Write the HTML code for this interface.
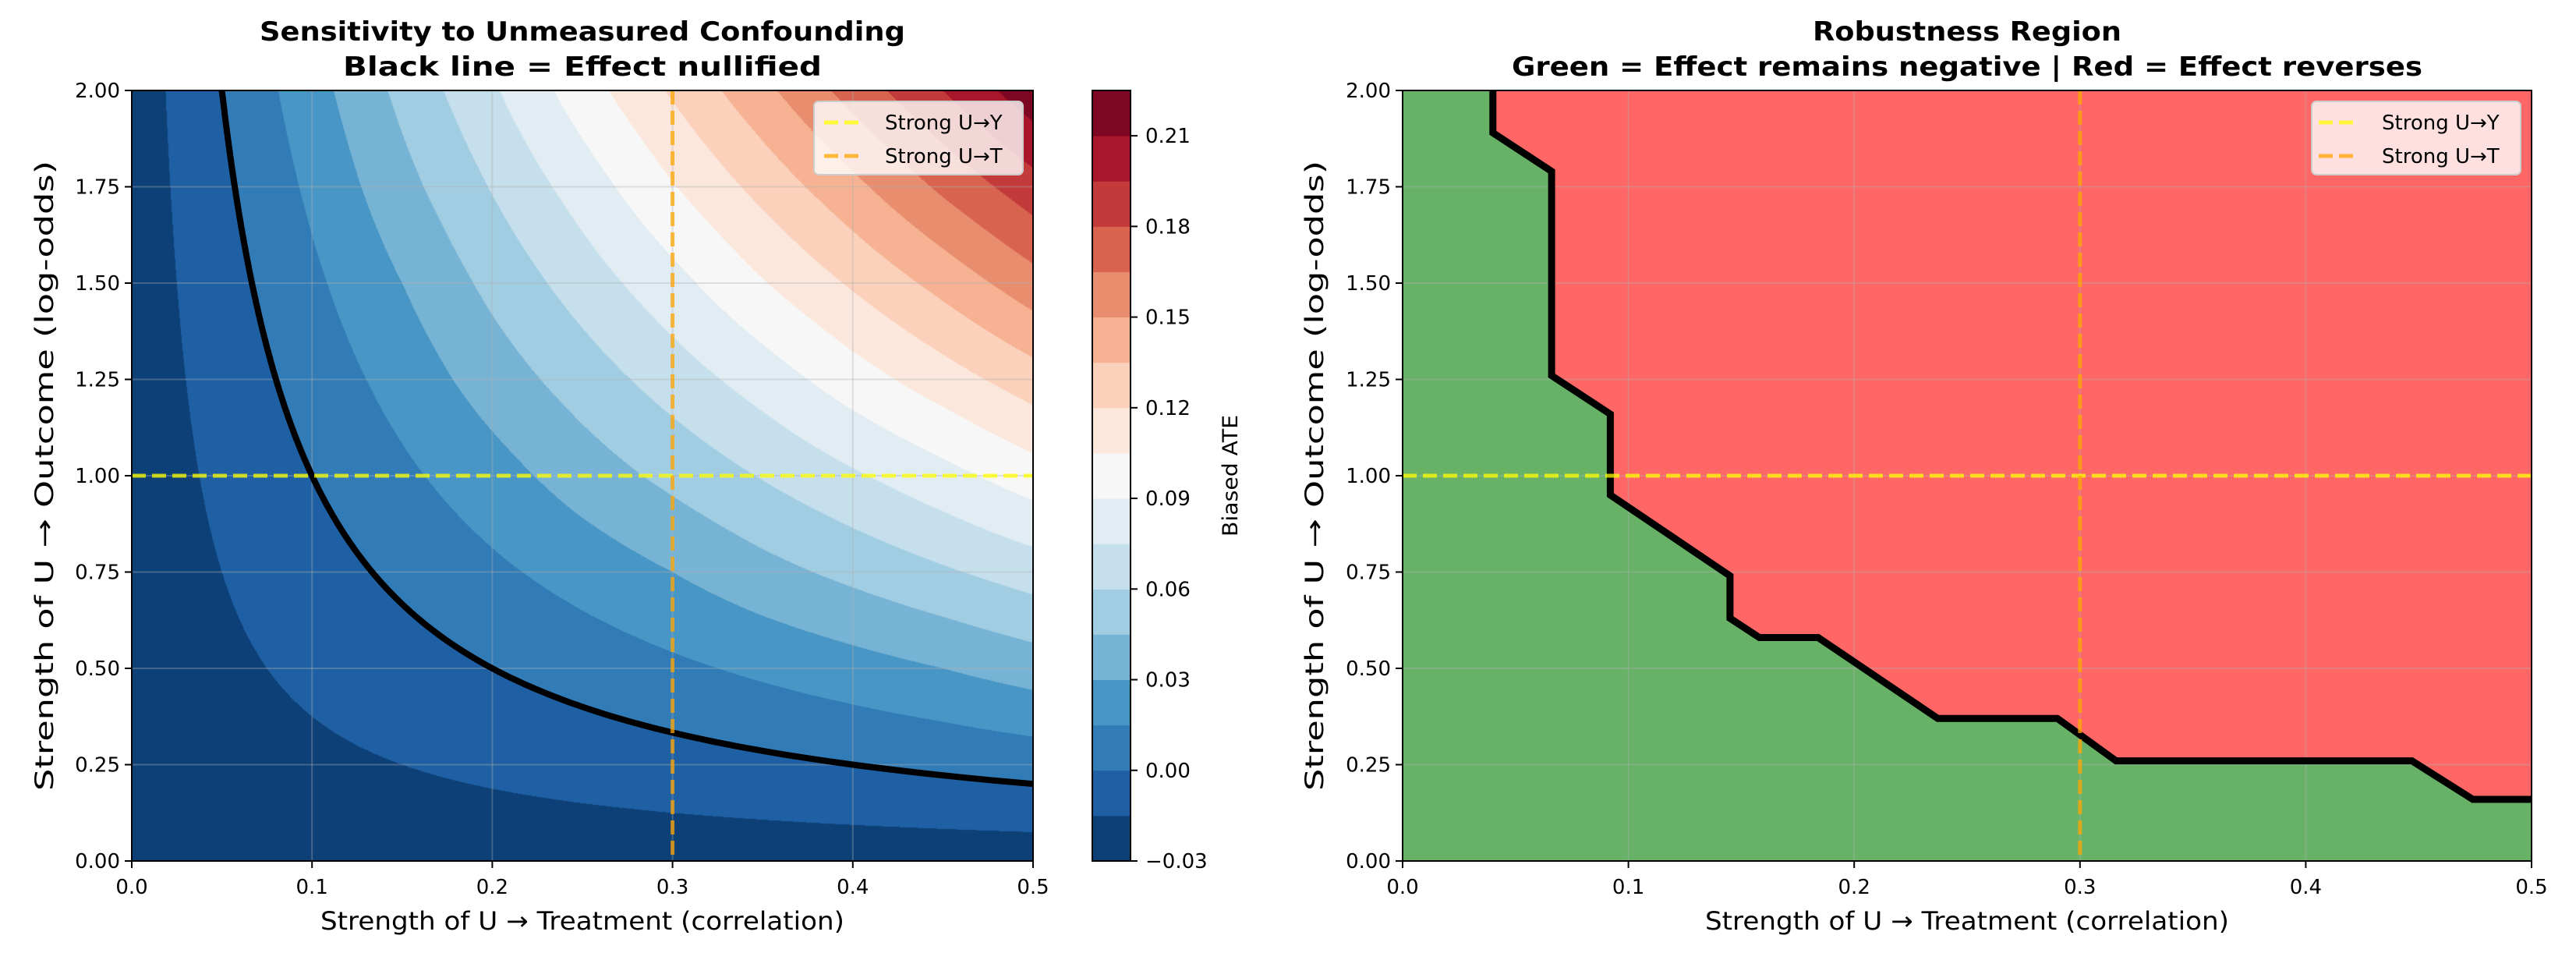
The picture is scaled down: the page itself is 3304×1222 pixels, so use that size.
<!DOCTYPE html>
<html><head><meta charset="utf-8">
<style>
html,body{margin:0;padding:0;background:#fff;}
#wrap{position:relative;width:3304px;height:1222px;overflow:hidden;}
canvas{position:absolute;left:169px;top:116px;}
svg{position:absolute;left:0;top:0;}
text{font-family:"DejaVu Sans","Liberation Sans",sans-serif;fill:#000;}
</style></head>
<body>
<div id="wrap">
<canvas id="cv" width="1156" height="988"></canvas>
<svg id="sv" width="3304" height="1222" xmlns="http://www.w3.org/2000/svg"></svg>
</div>
<script>
// ---- data: left contour (Biased ATE grid) ----
const gridX = [0,0.05,0.1,0.15,0.2,0.25,0.3,0.35,0.4,0.45,0.5];
const gridY = [0,0.25,0.5,0.75,1,1.25,1.5,1.75,2];
const ateRow0 = [-0.024,-0.024,-0.024,-0.024,-0.024,-0.024,-0.024,-0.024,-0.024,-0.024,-0.024];
const ateRow1 = [-0.024,-0.021,-0.018,-0.015,-0.012,-0.009,-0.006,-0.003,0.000,0.003,0.006];
const ateRow2 = [-0.024,-0.018,-0.012,-0.006,0.000,0.006,0.012,0.018,0.024,0.030,0.037];
const ateRow3 = [-0.024,-0.015,-0.006,0.003,0.012,0.021,0.030,0.040,0.049,0.058,0.067];
const ateRow4 = [-0.024,-0.012,0.000,0.012,0.024,0.037,0.049,0.061,0.073,0.085,0.098];
const ateRow5 = [-0.024,-0.009,0.006,0.021,0.037,0.052,0.067,0.082,0.098,0.113,0.128];
const ateRow6 = [-0.024,-0.006,0.012,0.030,0.049,0.067,0.085,0.104,0.122,0.140,0.159];
const ateRow7 = [-0.024,-0.003,0.018,0.040,0.061,0.082,0.104,0.125,0.146,0.168,0.189];
const ateRow8 = [-0.024,0.000,0.024,0.049,0.073,0.098,0.122,0.146,0.171,0.195,0.220];
const ateGrid = [ateRow0,ateRow1,ateRow2,ateRow3,ateRow4,ateRow5,ateRow6,ateRow7,ateRow8];
const levelMin = -0.03, levelStep = 0.015, levelCount = 17;
const cbTicks = [-0.03,0.00,0.03,0.06,0.09,0.12,0.15,0.18,0.21];
const xTicks = [0,0.1,0.2,0.3,0.4,0.5];
const xTickLabels = ["0.0","0.1","0.2","0.3","0.4","0.5"];
const yTicks = [0,0.25,0.5,0.75,1,1.25,1.5,1.75,2];
const yTickLabels = ["0.00","0.25","0.50","0.75","1.00","1.25","1.50","1.75","2.00"];
const strongUY = 1.0, strongUT = 0.3;
// ---- data: right robustness boundary ----
const boundX = [0.04,0.04,0.066,0.066,0.092,0.092,0.145,0.145,0.158,0.184,0.237,0.29,0.316,0.447,0.474,0.5];
const boundY = [2.0,1.89,1.79,1.26,1.16,0.95,0.74,0.63,0.58,0.58,0.37,0.37,0.26,0.26,0.16,0.16];

const NS="http://www.w3.org/2000/svg";
const sv=document.getElementById('sv');
function el(tag,attrs,parent,txt){const e=document.createElementNS(NS,tag);for(const k in attrs)e.setAttribute(k,attrs[k]);if(txt!==undefined)e.textContent=txt;(parent||sv).appendChild(e);return e;}

const L={x0:169,x1:1325,y0:116,y1:1104};
const R={x0:1799,x1:3247,y0:116,y1:1104};
function sx(P,v){return P.x0+(v-0)/(0.5)*(P.x1-P.x0);}
function sy(P,v){return P.y1-(v/2)*(P.y1-P.y0);}

// RdBu_r colormap
const anchors=[[5,48,97],[33,102,172],[67,147,195],[146,197,222],[209,229,240],[247,247,247],[253,219,199],[244,165,130],[214,96,77],[178,24,43],[103,0,31]];
function cmap(t){t=Math.max(0,Math.min(1,t));const p=t*10;const i=Math.min(9,Math.floor(p));const f=p-i;const a=anchors[i],b=anchors[i+1];return [0,1,2].map(k=>Math.round(a[k]+(b[k]-a[k])*f));}
const bandColors=[];for(let k=0;k<levelCount;k++)bandColors.push(cmap((k+0.5)/levelCount));

function ate(x,y){
  const fx=x/(gridX[gridX.length-1]-gridX[0])*(gridX.length-1);
  const fy=y/(gridY[gridY.length-1]-gridY[0])*(gridY.length-1);
  const i=Math.min(gridX.length-2,Math.max(0,Math.floor(fx))),j=Math.min(gridY.length-2,Math.max(0,Math.floor(fy)));
  const u=fx-i,w=fy-j;
  const a=ateGrid[j][i],b=ateGrid[j][i+1],c=ateGrid[j+1][i],d=ateGrid[j+1][i+1];
  return a*(1-u)*(1-w)+b*u*(1-w)+c*(1-u)*w+d*u*w;
}
// contour fill
(function(){
  const cv=document.getElementById('cv');const ctx=cv.getContext('2d');
  const W=cv.width,H=cv.height;const img=ctx.createImageData(W,H);
  for(let py=0;py<H;py++){const y=(1-(py+0.5)/H)*2;
    for(let px=0;px<W;px++){const x=(px+0.5)/W*0.5;
      let k=Math.floor((ate(x,y)-levelMin)/levelStep);k=Math.max(0,Math.min(levelCount-1,k));
      const c=bandColors[k];const o=(py*W+px)*4;img.data[o]=c[0];img.data[o+1]=c[1];img.data[o+2]=c[2];img.data[o+3]=255;}}
  ctx.putImageData(img,0,0);
})();

// right fill
el('rect',{x:R.x0,y:R.y0,width:R.x1-R.x0,height:R.y1-R.y0,fill:'#ff6666',});
let gp='M'+sx(R,0)+','+sy(R,0)+' L'+sx(R,0)+','+sy(R,2);
for(let i=0;i<boundX.length;i++)gp+=' L'+sx(R,boundX[i])+','+sy(R,boundY[i]);
gp+=' L'+sx(R,0.5)+','+sy(R,0)+' Z';
el('path',{d:gp,fill:'#67b267',});

function axesCommon(P,prefix){
  const g=el('g',{});
  xTicks.forEach(v=>el('line',{x1:sx(P,v),x2:sx(P,v),y1:P.y0,y2:P.y1,stroke:'#b0b0b0','stroke-opacity':0.35,'stroke-width':2},g));
  yTicks.forEach(v=>el('line',{x1:P.x0,x2:P.x1,y1:sy(P,v),y2:sy(P,v),stroke:'#b0b0b0','stroke-opacity':0.35,'stroke-width':2},g));
}
function refLines(P,prefix){
  const h=el('line',{x1:P.x0,x2:P.x1,y1:sy(P,strongUY),y2:sy(P,strongUY),stroke:'#ffff00','stroke-opacity':0.75,'stroke-width':5,'stroke-dasharray':'18,8'});
  
  const v=el('line',{x1:sx(P,strongUT),x2:sx(P,strongUT),y1:P.y0,y2:P.y1,stroke:'#ffa500','stroke-opacity':0.75,'stroke-width':5,'stroke-dasharray':'18,8'});
  
}
function axesFrame(P,prefix,title1,title2,t1len,t2len,ylx){
  el('rect',{x:P.x0,y:P.y0,width:P.x1-P.x0,height:P.y1-P.y0,fill:'none',stroke:'#000','stroke-width':2,});
  const xt=el('g',{});
  xTicks.forEach((v,i)=>{el('line',{x1:sx(P,v),x2:sx(P,v),y1:P.y1,y2:P.y1+9,stroke:'#000','stroke-width':2},xt);
    el('text',{x:sx(P,v),y:P.y1+42,'font-size':26,'text-anchor':'middle'},xt,xTickLabels[i]);});
  const yt=el('g',{});
  yTicks.forEach((v,i)=>{el('line',{x1:P.x0-9,x2:P.x0,y1:sy(P,v),y2:sy(P,v),stroke:'#000','stroke-width':2},yt);
    el('text',{x:P.x0-15,y:sy(P,v)+9,'font-size':26,'text-anchor':'end'},yt,yTickLabels[i]);});
  const cx=(P.x0+P.x1)/2;
  el('text',{x:cx,y:1192,'font-size':32,'text-anchor':'middle',textLength:672,lengthAdjust:'spacingAndGlyphs',},sv,'Strength of U \u2192 Treatment (correlation)');
  el('text',{x:0,y:0,'font-size':32,'text-anchor':'middle',textLength:808,lengthAdjust:'spacingAndGlyphs',transform:'translate('+ylx+','+((P.y0+P.y1)/2)+') rotate(-90)',},sv,'Strength of U \u2192 Outcome (log-odds)');
  el('text',{x:cx,y:52,'font-size':34,'font-weight':'bold','text-anchor':'middle',textLength:t1len,lengthAdjust:'spacingAndGlyphs',},sv,title1);
  el('text',{x:cx,y:97,'font-size':34,'font-weight':'bold','text-anchor':'middle',textLength:t2len,lengthAdjust:'spacingAndGlyphs',},sv,title2);
}
function legend(x,y,w,lx,tx,prefix){
  const g=el('g',{});
  el('rect',{x:x,y:y,width:w,height:94,rx:6,fill:'#ffffff','fill-opacity':0.8,stroke:'#cccccc','stroke-width':2},g);
  const e1=el('g',{},g);
  el('line',{x1:lx,x2:lx+50,y1:y+27,y2:y+27,stroke:'#ffff00','stroke-opacity':0.75,'stroke-width':5,'stroke-dasharray':'18,8'},e1);
  el('text',{x:tx,y:y+36,'font-size':26},e1,'Strong U\u2192Y');
  const e2=el('g',{},g);
  el('line',{x1:lx,x2:lx+50,y1:y+70,y2:y+70,stroke:'#ffa500','stroke-opacity':0.75,'stroke-width':5,'stroke-dasharray':'18,8'},e2);
  el('text',{x:tx,y:y+79,'font-size':26},e2,'Strong U\u2192T');
}

// ---- left ----
axesCommon(L,'left');
// nullified contour (ATE = 0)
(function(){
  let pts=[];
  for(let k=0;k<=400;k++){const y=2-k*(2/400);
    if(ate(0.5,y)<0)break;
    let prev=null;
    for(let i=0;i<=500;i++){const x=i*0.001;const v=ate(x,y);
      if(prev!==null && prev<0 && v>=0){const xc=x-0.001*v/(v-prev);pts.push([xc,y]);break;}prev=v;}}
  // end point on right edge
  let lo=0,hi=2;for(let n=0;n<40;n++){const m=(lo+hi)/2;if(ate(0.5,m)<0)lo=m;else hi=m;}
  pts.push([0.5,hi]);
  const d=pts.map((p,i)=>(i?'L':'M')+sx(L,p[0]).toFixed(1)+','+sy(L,p[1]).toFixed(1)).join(' ');
  const p=el('path',{d:d,fill:'none',stroke:'#000','stroke-width':8,'stroke-linejoin':'round'});
  
})();
refLines(L,'left');
axesFrame(L,'left','Sensitivity to Unmeasured Confounding','Black line = Effect nullified',828,614,68);
legend(1044,130,268,1057,1135,'left');

// colorbar
(function(){
  const cb={x0:1401,x1:1450,y0:116,y1:1104};
  const g=el('g',{});
  const top=levelMin+levelStep*levelCount;
  const cy=v=>cb.y1-(v-levelMin)/(top-levelMin)*(cb.y1-cb.y0);
  for(let k=0;k<levelCount;k++){const c=bandColors[k];
    el('rect',{x:cb.x0,y:cy(levelMin+(k+1)*levelStep),width:cb.x1-cb.x0,height:cy(levelMin+k*levelStep)-cy(levelMin+(k+1)*levelStep)+0.5,fill:'rgb('+c.join(',')+')'},g);}
  el('rect',{x:cb.x0,y:cb.y0,width:cb.x1-cb.x0,height:cb.y1-cb.y0,fill:'none',stroke:'#000','stroke-width':2},g);
  cbTicks.forEach(v=>{el('line',{x1:cb.x1,x2:cb.x1+9,y1:cy(v),y2:cy(v),stroke:'#000','stroke-width':2},g);
    el('text',{x:cb.x1+19,y:cy(v)+9,'font-size':26},g,(v<0?'\u2212':'')+Math.abs(v).toFixed(2));});
  el('text',{x:0,y:0,'font-size':27,'text-anchor':'middle',textLength:156,lengthAdjust:'spacingAndGlyphs',transform:'translate(1587,610) rotate(-90)',},sv,'Biased ATE');
})();

// ---- right ----
axesCommon(R,'right');
(function(){
  const d=boundX.map((x,i)=>(i?'L':'M')+sx(R,x).toFixed(1)+','+sy(R,boundY[i]).toFixed(1)).join(' ');
  const p=el('path',{d:d,fill:'none',stroke:'#000','stroke-width':9,'stroke-linejoin':'miter'});
  
})();
refLines(R,'right');
axesFrame(R,'right','Robustness Region','Green = Effect remains negative | Red = Effect reverses',396,1168,1697);
legend(2965,130,268,2974,3055,'right');
</script>
</body></html>
